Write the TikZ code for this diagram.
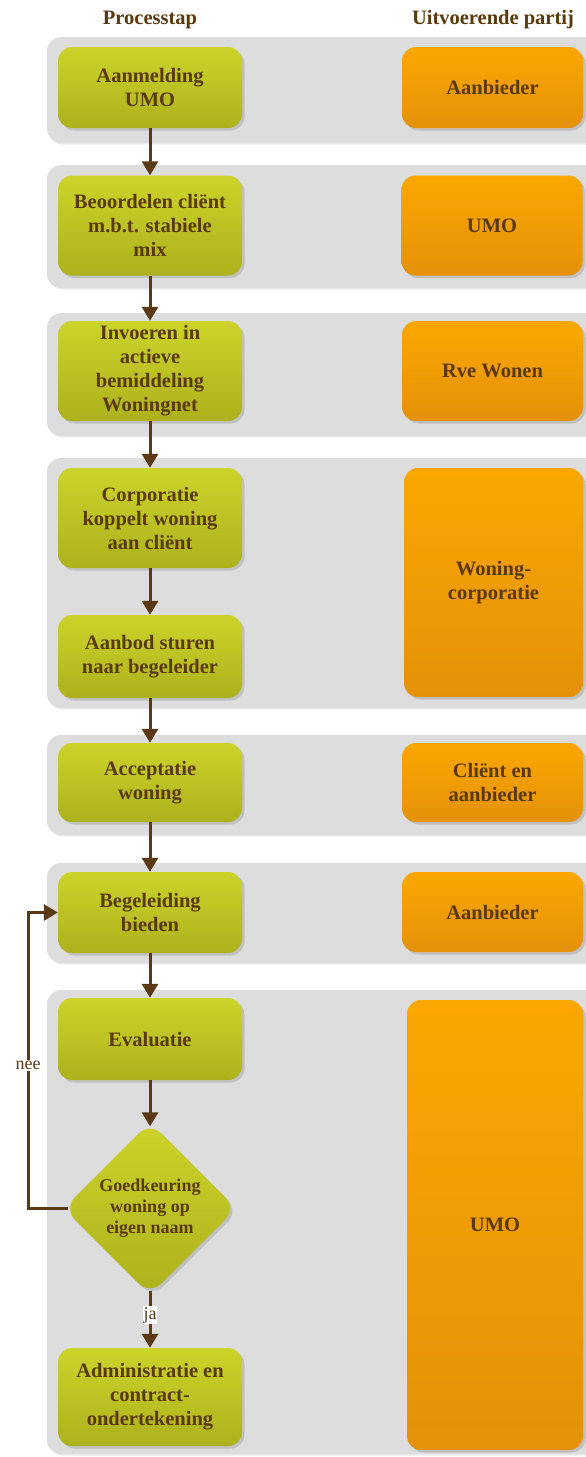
\documentclass[tikz,border=0pt]{standalone}
\usepackage{fontspec}
\setmainfont{Liberation Serif}
\usetikzlibrary{shapes.geometric,arrows.meta,shadows}

\definecolor{gtop}{HTML}{CCD42A}
\definecolor{gbot}{HTML}{ADB11C}
\definecolor{otop}{HTML}{FBA700}
\definecolor{obot}{HTML}{E5910A}
\definecolor{bandgray}{HTML}{DCDDDC}
\definecolor{ink}{HTML}{5A390D}
\definecolor{wire}{HTML}{5A3A14}

\begin{document}
\begin{tikzpicture}[x=1pt,y=-1pt,
  band/.style={fill=bandgray, rounded corners=14pt,
    drop shadow={shadow xshift=1.5pt,shadow yshift=-1.5pt,opacity=0.15}},
  boxbase/.style={rounded corners=14pt, inner sep=0pt, align=center, text=ink,
    font=\bfseries\fontsize{20.5}{24}\selectfont,
    drop shadow={shadow xshift=2.5pt,shadow yshift=-2.5pt,opacity=0.3}},
  stepbox/.style={boxbase, top color=gtop, bottom color=gbot, minimum width=184pt},
  partybox/.style={boxbase, top color=otop, bottom color=obot, minimum width=181pt},
  decision/.style={diamond, aspect=1, rounded corners=16pt, inner sep=0pt,
    minimum width=173pt, minimum height=173pt, align=center, text=ink,
    top color=gtop, bottom color=gbot,
    font=\bfseries\fontsize{18}{21}\selectfont,
    drop shadow={shadow xshift=2.5pt,shadow yshift=-2.5pt,opacity=0.3}},
  flow/.style={draw=wire, line width=3pt, -{Triangle[width=16pt,length=14pt]}},
  lbl/.style={fill=white, inner sep=1pt, text=wire, font=\fontsize{18}{20}\selectfont},
  head/.style={text=ink, font=\bfseries\fontsize{20.5}{24}\selectfont}
]
\useasboundingbox (0,0) rectangle (586,1457);
\clip (0,0) rectangle (586,1457);

% grey lanes, one per phase
\path[band] (47,37)  rectangle (640,143);
\path[band] (47,165) rectangle (640,288);
\path[band] (47,313) rectangle (640,436);
\path[band] (47,458) rectangle (640,708);
\path[band] (47,735) rectangle (640,835);
\path[band] (47,863) rectangle (640,963);
\path[band] (47,990) rectangle (640,1454);

% column headings
\node[head] (h1) at (150,20) {Processtap};
\node[head] (h2) at (493,20) {Uitvoerende partij};

% process steps
\node[stepbox, minimum height=81pt]  (s1)  at (150,87.5)  {Aanmelding\\UMO};
\node[stepbox, minimum height=100pt] (s2)  at (150,225.5) {Beoordelen cliënt\\m.b.t. stabiele\\mix};
\node[stepbox, minimum height=100pt] (s3)  at (150,371)   {Invoeren in\\actieve\\bemiddeling\\Woningnet};
\node[stepbox, minimum height=100pt] (s4a) at (150,518)   {Corporatie\\koppelt woning\\aan cliënt};
\node[stepbox, minimum height=83pt]  (s4b) at (150,656.5) {Aanbod sturen\\naar begeleider};
\node[stepbox, minimum height=79pt]  (s5)  at (150,782.5) {Acceptatie\\woning};
\node[stepbox, minimum height=81pt]  (s6)  at (150,912.5) {Begeleiding\\bieden};
\node[stepbox, minimum height=82pt]  (s7)  at (150,1039)  {Evaluatie};
\node[decision]                      (dia) at (150,1208.5) {Goedkeuring\\woning op\\eigen naam};
\node[stepbox, minimum height=98pt]  (s8)  at (150,1397)  {Administratie en\\contract-\\ondertekening};

% responsible parties
\node[partybox, minimum height=81pt]  (p1) at (492.5,87.5)  {Aanbieder};
\node[partybox, minimum height=100pt] (p2) at (492,225.5)   {UMO};
\node[partybox, minimum height=100pt] (p3) at (492.5,371)   {Rve Wonen};
\node[partybox, minimum width=179pt, minimum height=229pt] (p4) at (493.5,582.5) {Woning-\\corporatie};
\node[partybox, minimum height=79pt]  (p5) at (492.5,782.5) {Cliënt en\\aanbieder};
\node[partybox, minimum height=80pt]  (p6) at (492.5,912)   {Aanbieder};
\node[partybox, minimum width=176pt, minimum height=450pt] (p7) at (495,1225) {UMO};

% flow (the diamond's rounded tips sit inside its corner anchors)
\coordinate (fb) at (28,0);
\draw[flow] (s1) -- (s2);
\draw[flow] (s2) -- (s3);
\draw[flow] (s3) -- (s4a);
\draw[flow] (s4a) -- (s4b);
\draw[flow] (s4b) -- (s5);
\draw[flow] (s5) -- (s6);
\draw[flow] (s6) -- (s7);
\draw[flow, shorten >=-4.5pt] (s7.south) -- (dia.north);
\draw[flow, shorten <=-4.5pt] (dia.south) -- node[lbl, pos=0.38] (ja) {ja} (s8.north);
\draw[flow, shorten <=-4.5pt] (dia.west) -- (dia.west -| fb) -- node[lbl, pos=0.483] (nee) {nee} (s6.west -| fb) -- (s6.west);
\end{tikzpicture}
\end{document}
